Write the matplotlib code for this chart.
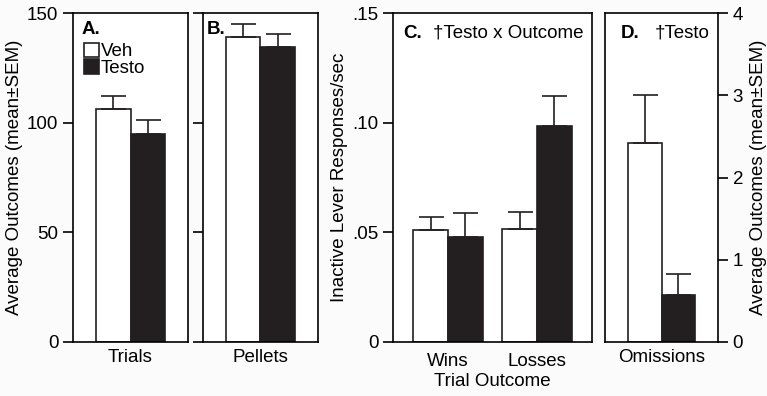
import matplotlib.pyplot as plt

plt.rcParams['font.family'] = ['Liberation Sans', 'DejaVu Sans']

groups = ["Veh", "Testo"]
colors = ["white", "#231f20"]

# panel A: trials
trials_mean = [106.4, 94.8]
trials_sem = [5.8, 6.4]
# panel B: pellets
pellets_mean = [139.2, 134.5]
pellets_sem = [5.6, 6.1]
# panel C: inactive lever responses/sec
outcomes = ["Wins", "Losses"]
inactive_veh = [0.0511, 0.0517]
inactive_veh_sem = [0.0060, 0.0076]
inactive_testo = [0.0480, 0.0985]
inactive_testo_sem = [0.0107, 0.0135]
# panel D: omissions
omissions_mean = [2.42, 0.57]
omissions_sem = [0.58, 0.26]

fs = 13.5
lw = 1.2

fig = plt.figure(figsize=(7.67, 3.96), dpi=100, facecolor="#fbfbfb")
bottom, height = 54 / 396, 329 / 396
axA = fig.add_axes([73 / 767, bottom, 115 / 767, height])
axB = fig.add_axes([203 / 767, bottom, 115 / 767, height])
axC = fig.add_axes([393 / 767, bottom, 199 / 767, height])
axD = fig.add_axes([605 / 767, bottom, 113 / 767, height])


def style(ax):
    for s in ax.spines.values():
        s.set_linewidth(lw)
    ax.tick_params(axis='y', direction='out', length=7, width=lw, labelsize=fs)
    ax.tick_params(axis='x', length=0, labelsize=fs, pad=5)


def pair_bars(ax, means, sems, label_name):
    pos = [-0.3, 0.3]
    for p, m, e, c, g in zip(pos, means, sems, colors, groups):
        ax.bar(p, m, width=0.6, color=c, edgecolor="#231f20", linewidth=lw, label=g)
        ax.errorbar(p, m, yerr=[[0], [e]], color="#231f20", capsize=9,
                    elinewidth=lw, capthick=lw)
    ax.set_xlim(-1, 1)
    ax.set_xticks([0])
    ax.set_xticklabels([label_name])


# A
pair_bars(axA, trials_mean, trials_sem, "Trials")
axA.set_ylim(0, 150)
axA.set_yticks([0, 50, 100, 150])
axA.set_ylabel("Average Outcomes (mean±SEM)", fontsize=fs, labelpad=3)
axA.text(0.07, 0.975, "A.", transform=axA.transAxes, fontsize=fs, fontweight='bold',
         va='top', ha='left')
axA.legend(loc='upper left', bbox_to_anchor=(-0.02, 0.95), frameon=False, fontsize=fs,
           handlelength=0.8, handleheight=0.8, handletextpad=0.1, labelspacing=-0.05,
           borderpad=0.2)
style(axA)

# B
pair_bars(axB, pellets_mean, pellets_sem, "Pellets")
axB.set_ylim(0, 150)
axB.set_yticks([0, 50, 100, 150])
axB.set_yticklabels([])
axB.text(0.03, 0.975, "B.", transform=axB.transAxes, fontsize=fs, fontweight='bold',
         va='top', ha='left')
style(axB)

# C
xc = list(range(len(outcomes)))
bw = 0.39
axC.bar([x - bw / 2 for x in xc], inactive_veh, width=bw, color=colors[0],
        edgecolor="#231f20", linewidth=lw)
axC.bar([x + bw / 2 for x in xc], inactive_testo, width=bw, color=colors[1],
        edgecolor="#231f20", linewidth=lw)
axC.errorbar([x - bw / 2 for x in xc], inactive_veh,
             yerr=[[0] * len(xc), inactive_veh_sem], fmt='none', ecolor="#231f20",
             capsize=9, elinewidth=lw, capthick=lw)
axC.errorbar([x + bw / 2 for x in xc], inactive_testo,
             yerr=[[0] * len(xc), inactive_testo_sem], fmt='none', ecolor="#231f20",
             capsize=9, elinewidth=lw, capthick=lw)
axC.set_xlim(-0.62, 1.62)
axC.set_xticks(xc)
axC.set_xticklabels(outcomes)
axC.set_ylim(0, 0.15)
axC.set_yticks([0, 0.05, 0.10, 0.15])
axC.set_yticklabels(["0", ".05", ".10", ".15"])
axC.set_ylabel("Inactive Lever Responses/sec", fontsize=fs, labelpad=3)
axC.set_xlabel("Trial Outcome", fontsize=fs, labelpad=2)
axC.text(0.05, 0.965, "C.", transform=axC.transAxes, fontsize=fs, fontweight='bold',
         va='top', ha='left')
axC.text(0.2, 0.965, "†Testo x Outcome", transform=axC.transAxes, fontsize=fs,
         va='top', ha='left')
for s in axC.spines.values():
    s.set_linewidth(lw)
axC.tick_params(axis='y', direction='out', length=7, width=lw, labelsize=fs)
axC.tick_params(axis='x', length=0, labelsize=fs, pad=8)

# D
pair_bars(axD, omissions_mean, omissions_sem, "Omissions")
axD.set_ylim(0, 4)
axD.set_yticks([0, 1, 2, 3, 4])
axD.yaxis.tick_right()
axD.yaxis.set_label_position("right")
axD.set_ylabel("Average Outcomes (mean±SEM)", fontsize=fs, labelpad=5)
axD.text(0.14, 0.965, "D.", transform=axD.transAxes, fontsize=fs, fontweight='bold',
         va='top', ha='left')
axD.text(0.44, 0.965, "†Testo", transform=axD.transAxes, fontsize=fs,
         va='top', ha='left')
style(axD)

fig.savefig("out.png", dpi=100, facecolor=fig.get_facecolor())
